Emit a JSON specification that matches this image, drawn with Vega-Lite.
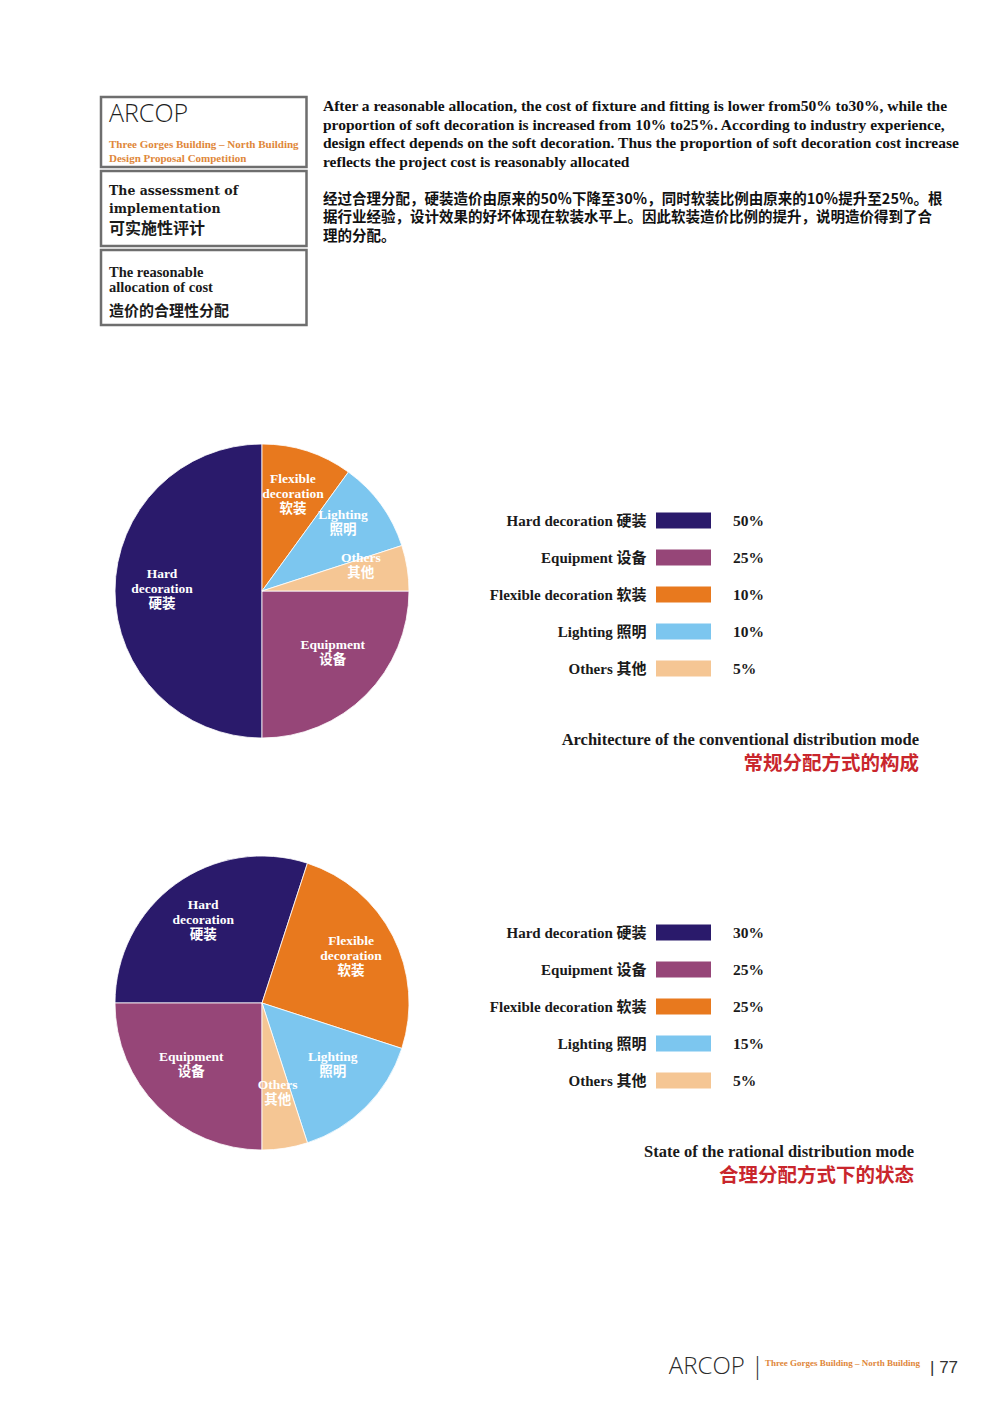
{
  "$schema": "https://vega.github.io/schema/vega-lite/v6.json",
  "background": "white",
  "padding": {"left": 62, "top": 95, "right": 0, "bottom": 0},
  "config": {"view": {"stroke": null}},
  "datasets": {
    "p1": [
      {"cat": "Hard decoration 硬装", "lbl": "Hard\ndecoration\n硬装", "share": 0.50, "seq": 1},
      {"cat": "Equipment 设备", "lbl": "Equipment\n设备", "share": 0.25, "seq": 5},
      {"cat": "Flexible decoration 软装", "lbl": "Flexible\ndecoration\n软装", "share": 0.10, "seq": 2},
      {"cat": "Lighting 照明", "lbl": "Lighting\n照明", "share": 0.10, "seq": 3},
      {"cat": "Others 其他", "lbl": "Others\n其他", "share": 0.05, "seq": 4}
    ],
    "p2": [
      {"cat": "Hard decoration 硬装", "lbl": "Hard\ndecoration\n硬装", "share": 0.30, "seq": 1},
      {"cat": "Equipment 设备", "lbl": "Equipment\n设备", "share": 0.25, "seq": 5},
      {"cat": "Flexible decoration 软装", "lbl": "Flexible\ndecoration\n软装", "share": 0.25, "seq": 2},
      {"cat": "Lighting 照明", "lbl": "Lighting\n照明", "share": 0.15, "seq": 3},
      {"cat": "Others 其他", "lbl": "Others\n其他", "share": 0.05, "seq": 4}
    ]
  },
  "resolve": {"scale": {"theta": "independent", "color": "independent"}},
  "spacing": 79,
  "vconcat": [
    {
      "hconcat": [
        {"width": 22, "height": 1, "data": {"values": []}, "mark": "point"},
        {
          "vconcat": [
            {
              "width": 205.5, "height": 70, "data": {"values": []}, "mark": "point",
              "view": {"stroke": "#6e6e6e", "strokeWidth": 2.5, "fill": "white"},
              "title": {"text": "ARCOP", "subtitle": ["Three Gorges Building – North Building", "Design Proposal Competition"], "orient": "top", "anchor": "start", "frame": "group", "offset": -66.5, "dx": 8, "font": "Open Sans", "fontSize": 25, "fontWeight": 300, "color": "#1f1f1f", "subtitleFont": "Liberation Serif", "subtitleFontSize": 11, "subtitleFontWeight": "bold", "subtitleColor": "#e0873a", "subtitleLineHeight": 14, "subtitlePadding": 12}
            },
            {
              "width": 205.5, "height": 75, "data": {"values": []}, "mark": "point",
              "view": {"stroke": "#6e6e6e", "strokeWidth": 2.5, "fill": "white"},
              "title": {"text": ["The assessment of", "implementation"], "subtitle": "可实施性评计", "orient": "top", "anchor": "start", "frame": "group", "offset": -66, "dx": 8, "font": "DejaVu Serif", "fontSize": 12.5, "fontWeight": "bold", "lineHeight": 18, "color": "#1a1a1a", "subtitleFont": "Noto Sans CJK SC", "subtitleFontSize": 16, "subtitleFontWeight": "bold", "subtitleColor": "#1a1a1a", "subtitlePadding": 6}
            },
            {
              "width": 205.5, "height": 75, "data": {"values": []}, "mark": "point",
              "view": {"stroke": "#6e6e6e", "strokeWidth": 2.5, "fill": "white"},
              "title": {"text": ["The reasonable", "allocation of cost"], "subtitle": "造价的合理性分配", "orient": "top", "anchor": "start", "frame": "group", "offset": -69.5, "dx": 8, "font": "Liberation Serif", "fontSize": 14.5, "fontWeight": "bold", "lineHeight": 15, "color": "#1a1a1a", "subtitleFont": "Noto Sans CJK SC", "subtitleFontSize": 15, "subtitleFontWeight": "bold", "subtitleColor": "#1a1a1a", "subtitlePadding": 8}
            }
          ],
          "spacing": 0
        },
        {
          "width": 638, "height": 266, "data": {"values": []}, "mark": "point",
          "title": {
            "text": [
              "After a reasonable allocation, the cost of fixture and fitting is lower from50% to30%, while the",
              "proportion of soft decoration is increased from 10% to25%. According to industry experience,",
              "design effect depends on the soft decoration. Thus the proportion of soft decoration cost increase",
              "reflects the project cost is reasonably allocated"
            ],
            "subtitle": [
              "经过合理分配，硬装造价由原来的50％下降至30％，同时软装比例由原来的10％提升至25％。根",
              "据行业经验，设计效果的好坏体现在软装水平上。因此软装造价比例的提升，说明造价得到了合",
              "理的分配。"
            ],
            "orient": "top", "anchor": "start", "frame": "group", "offset": -146, "dx": 0,
            "font": "Liberation Serif", "fontSize": 15.5, "fontWeight": "bold", "lineHeight": 18.7, "color": "#111111",
            "subtitleFont": "Noto Sans CJK SC", "subtitleFontSize": 14.5, "subtitleFontWeight": "bold", "subtitleColor": "#111111", "subtitleLineHeight": 18.5, "subtitlePadding": 22
          }
        }
      ],
      "spacing": 15
    },
    {
      "hconcat": [
        {
          "width": 400, "height": 294,
          "data": {"name": "p1"},
          "encoding": {
            "theta": {"field": "share", "type": "quantitative", "stack": true, "scale": {"range": [-3.14159265, 3.14159265]}},
            "order": {"field": "seq", "type": "quantitative"},
            "color": {"field": "cat", "type": "nominal", "scale": {"domain": ["Hard decoration 硬装", "Equipment 设备", "Flexible decoration 软装", "Lighting 照明", "Others 其他"], "range": ["#2a1a6b", "#964678", "#e8791e", "#7cc6ef", "#f5c694"]}, "legend": null}
          },
          "layer": [
            {"mark": {"type": "arc", "stroke": "white", "strokeWidth": 0.8}},
            {"mark": {"type": "text", "radius": 100, "dy": -17, "baseline": "middle", "lineBreak": "\n", "font": "Liberation Serif, Noto Sans CJK SC", "fontWeight": "bold", "fontSize": 13.5, "lineHeight": 15}, "encoding": {"text": {"field": "lbl"}, "fill": {"value": "white"}}}
          ]
        },
        {
          "vconcat": [
            {"width": 1, "height": 58, "data": {"values": []}, "mark": "point"},
            {
              "hconcat": [
                {
                  "width": 55, "height": 185,
                  "data": {"name": "p1"},
                  "mark": {"type": "bar"},
                  "encoding": {
                    "y": {"field": "cat", "type": "nominal", "sort": ["Hard decoration 硬装", "Equipment 设备", "Flexible decoration 软装", "Lighting 照明", "Others 其他"], "scale": {"type": "band", "paddingInner": 0.57, "paddingOuter": 0.285}, "axis": {"title": null, "domain": false, "ticks": false, "labelPadding": 10, "labelFont": "Liberation Serif, Noto Sans CJK SC", "labelFontWeight": "bold", "labelFontSize": 15, "labelColor": "#1a1a1a", "labelLimit": 300}},
                    "color": {"field": "cat", "type": "nominal", "scale": {"domain": ["Hard decoration 硬装", "Equipment 设备", "Flexible decoration 软装", "Lighting 照明", "Others 其他"], "range": ["#2a1a6b", "#964678", "#e8791e", "#7cc6ef", "#f5c694"]}, "legend": null}
                  }
                },
                {
                  "width": 40, "height": 185,
                  "data": {"name": "p1"},
                  "mark": {"type": "text", "align": "left", "font": "Liberation Serif", "fontWeight": "bold", "fontSize": 15.5, "color": "#1a1a1a"},
                  "encoding": {
                    "y": {"field": "cat", "type": "nominal", "sort": ["Hard decoration 硬装", "Equipment 设备", "Flexible decoration 软装", "Lighting 照明", "Others 其他"], "scale": {"type": "band", "paddingInner": 0.57, "paddingOuter": 0.285}, "axis": null},
                    "text": {"field": "share", "type": "quantitative", "format": ".0%"}
                  }
                }
              ],
              "spacing": 2
            },
            {
              "width": 263, "height": 88, "data": {"values": []}, "mark": "point",
              "title": {"text": "Architecture of the conventional distribution mode", "subtitle": "常规分配方式的构成", "orient": "top", "anchor": "end", "frame": "group", "offset": -86, "font": "Liberation Serif", "fontSize": 16.5, "fontWeight": "bold", "color": "#1a1a1a", "subtitleFont": "Noto Sans CJK SC", "subtitleFontSize": 19.5, "subtitleFontWeight": "bold", "subtitleColor": "#c9262c", "subtitlePadding": 6}
            }
          ],
          "spacing": 0
        }
      ],
      "spacing": 27
    },
    {
      "hconcat": [
        {
          "width": 400, "height": 294,
          "data": {"name": "p2"},
          "encoding": {
            "theta": {"field": "share", "type": "quantitative", "stack": true, "scale": {"range": [-1.57079633, 4.71238898]}},
            "order": {"field": "seq", "type": "quantitative"},
            "color": {"field": "cat", "type": "nominal", "scale": {"domain": ["Hard decoration 硬装", "Equipment 设备", "Flexible decoration 软装", "Lighting 照明", "Others 其他"], "range": ["#2a1a6b", "#964678", "#e8791e", "#7cc6ef", "#f5c694"]}, "legend": null}
          },
          "layer": [
            {"mark": {"type": "arc", "stroke": "white", "strokeWidth": 0.8}},
            {"mark": {"type": "text", "radius": 100, "dy": -17, "baseline": "middle", "lineBreak": "\n", "font": "Liberation Serif, Noto Sans CJK SC", "fontWeight": "bold", "fontSize": 13.5, "lineHeight": 15}, "encoding": {"text": {"field": "lbl"}, "fill": {"value": "white"}}}
          ]
        },
        {
          "vconcat": [
            {"width": 1, "height": 58, "data": {"values": []}, "mark": "point"},
            {
              "hconcat": [
                {
                  "width": 55, "height": 185,
                  "data": {"name": "p2"},
                  "mark": {"type": "bar"},
                  "encoding": {
                    "y": {"field": "cat", "type": "nominal", "sort": ["Hard decoration 硬装", "Equipment 设备", "Flexible decoration 软装", "Lighting 照明", "Others 其他"], "scale": {"type": "band", "paddingInner": 0.57, "paddingOuter": 0.285}, "axis": {"title": null, "domain": false, "ticks": false, "labelPadding": 10, "labelFont": "Liberation Serif, Noto Sans CJK SC", "labelFontWeight": "bold", "labelFontSize": 15, "labelColor": "#1a1a1a", "labelLimit": 300}},
                    "color": {"field": "cat", "type": "nominal", "scale": {"domain": ["Hard decoration 硬装", "Equipment 设备", "Flexible decoration 软装", "Lighting 照明", "Others 其他"], "range": ["#2a1a6b", "#964678", "#e8791e", "#7cc6ef", "#f5c694"]}, "legend": null}
                  }
                },
                {
                  "width": 40, "height": 185,
                  "data": {"name": "p2"},
                  "mark": {"type": "text", "align": "left", "font": "Liberation Serif", "fontWeight": "bold", "fontSize": 15.5, "color": "#1a1a1a"},
                  "encoding": {
                    "y": {"field": "cat", "type": "nominal", "sort": ["Hard decoration 硬装", "Equipment 设备", "Flexible decoration 软装", "Lighting 照明", "Others 其他"], "scale": {"type": "band", "paddingInner": 0.57, "paddingOuter": 0.285}, "axis": null},
                    "text": {"field": "share", "type": "quantitative", "format": ".0%"}
                  }
                }
              ],
              "spacing": 2
            },
            {
              "width": 263, "height": 88, "data": {"values": []}, "mark": "point",
              "title": {"text": "State of the rational distribution mode", "subtitle": "合理分配方式下的状态", "orient": "top", "anchor": "end", "frame": "group", "offset": -86, "dx": -5, "font": "Liberation Serif", "fontSize": 16.5, "fontWeight": "bold", "color": "#1a1a1a", "subtitleFont": "Noto Sans CJK SC", "subtitleFontSize": 19.5, "subtitleFontWeight": "bold", "subtitleColor": "#c9262c", "subtitlePadding": 6}
            }
          ],
          "spacing": 0
        }
      ],
      "spacing": 27
    },
    {
      "hconcat": [
        {
          "width": 702, "height": 120, "data": {"values": []}, "mark": "point",
          "title": {"text": "ARCOP |", "orient": "top", "anchor": "end", "frame": "group", "offset": -113, "font": "Open Sans", "fontSize": 24, "fontWeight": 300, "color": "#2b2b2b"}
        },
        {
          "width": 164, "height": 120, "data": {"values": []}, "mark": "point",
          "title": {"text": "Three Gorges Building – North Building", "orient": "top", "anchor": "start", "frame": "group", "offset": -102, "font": "Liberation Serif", "fontSize": 9, "fontWeight": "bold", "color": "#e0873a"}
        },
        {
          "width": 40, "height": 120, "data": {"values": []}, "mark": "point",
          "title": {"text": "| 77", "orient": "top", "anchor": "start", "frame": "group", "offset": -111, "font": "Liberation Sans", "fontSize": 17, "fontWeight": "normal", "color": "#333333"}
        }
      ],
      "spacing": 1
    }
  ]
}
